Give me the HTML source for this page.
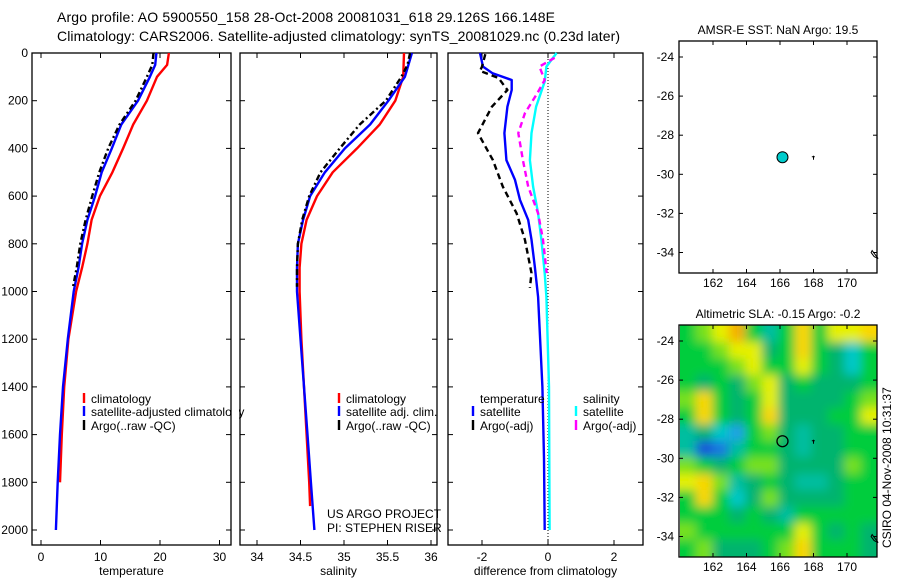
<!DOCTYPE html>
<html><head><meta charset="utf-8"><style>
html,body{margin:0;padding:0;background:#fff;}
svg{display:block;font-family:"Liberation Sans",sans-serif;}
</style></head><body>
<svg id="fig" width="900" height="580" viewBox="0 0 900 580" xmlns="http://www.w3.org/2000/svg">
<defs>
<clipPath id="clipMap2"><rect x="680" y="325" width="197" height="232"/></clipPath>
<filter id="blur" x="-10%" y="-10%" width="120%" height="120%"><feGaussianBlur stdDeviation="5"/></filter>
</defs>
<text x="57" y="22" font-size="14" textLength="498">Argo profile: AO 5900550_158 28-Oct-2008 20081031_618 29.126S 166.148E</text>
<text x="57" y="41" font-size="14" textLength="563">Climatology: CARS2006. Satellite-adjusted climatology: synTS_20081029.nc (0.23d later)</text>
<g id="plots"></g>
<text x="327" y="518" font-size="12">US ARGO PROJECT</text>
<text x="327" y="532" font-size="12">PI: STEPHEN RISER</text>
<text x="0" y="0" font-size="12" transform="translate(891,548) rotate(-90)">CSIRO 04-Nov-2008 10:31:37</text>
</svg>
<script>
// ---- data ----
const depthTicks = [0,200,400,600,800,1000,1200,1400,1600,1800,2000];
const tempTicks = [0,10,20,30];
const salTicks = [34,34.5,35,35.5,36];
const diffTicks = [-2,0,2];
const lonTicks = [162,164,166,168,170];
const latTicks = [-24,-26,-28,-30,-32,-34];

const tClimDepth = [0,50,100,200,300,400,500,600,700,800,900,1000,1200,1400,1600,1800];
const tClim = [21.5,21.2,19.5,17.8,15.5,13.8,12,9.9,8.5,7.8,6.9,5.9,4.6,3.9,3.5,3.2];
const tSatDepth = [0,50,100,200,300,400,500,600,700,800,900,1000,1200,1400,1600,1800,2000];
const tSat = [19.4,19.2,18.3,16.3,13.5,11.9,10.2,9.1,7.8,6.9,6.3,5.5,4.5,3.7,3.2,2.8,2.5];
const tArgoDepth = [0,50,100,200,300,400,500,600,700,800,900,980];
const tArgo = [18.9,18.7,17.8,15.9,13.2,11.3,9.8,8.6,7.5,6.6,6.0,5.4];

const sClimDepth = [0,100,200,300,400,500,600,700,800,900,1000,1200,1400,1600,1800,1900];
const sClim = [35.69,35.68,35.59,35.41,35.15,34.87,34.69,34.57,34.51,34.49,34.49,34.51,34.54,34.57,34.6,34.61];
const sSatDepth = [0,50,100,200,300,400,500,600,700,800,900,1000,1200,1400,1600,1800,2000];
const sSat = [35.78,35.74,35.70,35.51,35.30,35.01,34.78,34.61,34.53,34.47,34.46,34.46,34.5,34.54,34.58,34.62,34.66];
const sArgoDepth = [0,50,100,200,300,400,500,600,700,800,900,980];
const sArgo = [35.76,35.73,35.66,35.48,35.18,34.95,34.73,34.6,34.52,34.47,34.46,34.46];

const dTSatDepth = [0,57,85,113,155,225,336,449,532,616,700,783,895,1023,1400,1700,2000];
const dTSat = [-2.06,-1.97,-1.68,-1.1,-1.1,-1.23,-1.32,-1.26,-1.0,-0.85,-0.6,-0.5,-0.4,-0.3,-0.17,-0.12,-0.1];
const dTArgoDepth = [5,57,75,105,155,225,336,449,560,672,783,923,985];
const dTArgo = [-1.9,-2.0,-2.06,-1.5,-1.23,-1.7,-2.12,-1.67,-1.37,-0.95,-0.7,-0.5,-0.55];
const dSSatDepth = [0,57,120,225,336,449,560,672,783,923,1023,1400,2000];
const dSSat = [0.26,-0.05,-0.1,-0.36,-0.5,-0.55,-0.45,-0.3,-0.2,-0.1,-0.05,0.03,0.05];
const dSArgoDepth = [20,57,113,168,253,336,449,560,672,783,923];
const dSArgo = [0.2,-0.26,-0.1,-0.32,-0.7,-0.9,-0.76,-0.6,-0.3,-0.15,-0.04];

const floatLon = 166.148;
const floatLat = -29.126;
// SLA field rows (north to south), cols (west to east)
const slaGrid = [
[0,0.5,1,2,0,-1,0,1.5,0,1,1,1.5],
[0,0,0.5,1,1,-0.5,0,1.5,0,-0.5,-1.5,0],
[0,0,0,0.5,1,0,0,1,0,-0.5,-1.5,0],
[0,-0.5,0,-0.5,0.5,1,-0.5,0,-0.5,-0.5,-0.5,0],
[0.5,1.5,0,-0.5,0,1,-0.5,-0.5,-0.5,-0.5,0,0.5],
[0,1.5,0,-0.5,0,1.5,-0.5,-0.5,-0.5,0,0,1],
[-1,-0.5,-1.5,-2,0,0.5,-0.5,-1,-0.5,-0.5,0,0],
[-1,-3,-2.5,-1,0,0,-0.5,-1,-0.5,-0.5,0,0],
[0.5,0,-0.5,0,0.5,0.5,-0.5,-0.5,-0.5,-0.5,0.5,0],
[1,1.5,0.5,-1,-0.5,0,-0.5,-1,-1,-0.5,0,0],
[0,1.5,0,-1.5,-0.5,0.5,-0.5,-0.5,-0.5,-0.5,0,0],
[0,0,0,-0.5,0,-0.5,-1,0,0,0,0,0],
[0.5,0,0,0,0,0,0,1,0,-0.5,0,-0.5],
[0,0.5,-0.5,-0.5,-0.5,0,0.5,1.5,0,0,0,-0.5]
];

// ---- helpers ----
const NS = "http://www.w3.org/2000/svg";
const root = document.getElementById('plots');
function mk(tag, attrs, parent){ const e=document.createElementNS(NS,tag); for(const k in attrs) e.setAttribute(k,attrs[k]); (parent||root).appendChild(e); return e; }
const yD = d => 53 + d*0.2385;

function profilePanel(name, x0, x1, xs, ticks, tickFmt, xlabel, showDepthLabels){
  const g = mk('g',{});
  
  
  const fr = mk('rect',{x:x0,y:53,width:x1-x0,height:492,fill:'none',stroke:'#000','stroke-width':1.3},g);
  
  
  ticks.forEach(t=>{
    const x=xs(t);
    mk('line',{x1:x,x2:x,y1:545,y2:540,stroke:'#000'},g);
    mk('line',{x1:x,x2:x,y1:53,y2:58,stroke:'#000'},g);
    const tl = mk('text',{x:x,y:561,'font-size':12,'text-anchor':'middle'},g);
    tl.textContent = tickFmt(t);
    
    
  });
  depthTicks.forEach(d=>{
    const y=yD(d);
    mk('line',{x1:x0,x2:x0+5,y1:y,y2:y,stroke:'#000'},g);
    mk('line',{x1:x1,x2:x1-5,y1:y,y2:y,stroke:'#000'},g);
    if(showDepthLabels){
      const tl = mk('text',{x:28,y:y+4,'font-size':12,'text-anchor':'end'},g);
      tl.textContent = d;
      
      
    }
  });
  const xl = mk('text',{x:(x0+x1)/2,y:575,'font-size':12,'text-anchor':'middle'},g);
  xl.textContent = xlabel;
  
  
  return g;
}
function line(g, xs, vals, depths, color, dash, nm, w){
  const pts = vals.map((v,i)=>xs(v).toFixed(1)+','+yD(depths[i]).toFixed(1)).join(' ');
  const p = mk('polyline',{points:pts,fill:'none',stroke:color,'stroke-width':w||2.4,'stroke-dasharray':dash||'none','stroke-linejoin':'round'},g);
  
  
}
function legend(g, x, y, color, label, nm){
  const lg = mk('g',{},g);
  
  
  mk('line',{x1:x,x2:x,y1:y-10,y2:y,stroke:color,'stroke-width':2.4},lg);
  const t = mk('text',{x:x+7,y:y,'font-size':12},lg);
  t.textContent = label;
}

// temperature panel
const xT = v => 41 + v*5.95;
const gT = profilePanel('temperature-panel',32,231,xT,tempTicks,t=>t,'temperature',true);
line(gT,xT,tClim,tClimDepth,'#ff0000',null,'temp-climatology-line');
line(gT,xT,tSat,tSatDepth,'#0000ff',null,'temp-satellite-line');
line(gT,xT,tArgo,tArgoDepth,'#000','6,3,2,3','temp-argo-line');
legend(gT,84,403,'#ff0000','climatology','legend-climatology');
legend(gT,84,416,'#0000ff','satellite-adjusted climatology','legend-satellite');
legend(gT,84,430,'#000','Argo(..raw -QC)','legend-argo');
mk('rect',{x:232,y:395,width:7,height:40,fill:'#fff'});
// salinity panel
const xS = v => 257 + (v-34)*87;
const gS = profilePanel('salinity-panel',240,437,xS,salTicks,t=>t,'salinity',false);
line(gS,xS,sClim,sClimDepth,'#ff0000',null,'sal-climatology-line');
line(gS,xS,sSat,sSatDepth,'#0000ff',null,'sal-satellite-line');
line(gS,xS,sArgo,sArgoDepth,'#000','6,3,2,3','sal-argo-line');
legend(gS,339,403,'#ff0000','climatology','legend-sal-climatology');
legend(gS,339,416,'#0000ff','satellite adj. clim.','legend-sal-satellite');
legend(gS,339,430,'#000','Argo(..raw -QC)','legend-sal-argo');
// difference panel
const xDf = v => 548 + v*33;
const gD = profilePanel('difference-panel',448,643,xDf,diffTicks,t=>t,'difference from climatology',false);
mk('line',{x1:xDf(0),x2:xDf(0),y1:53,y2:545,stroke:'#000','stroke-dasharray':'1,2'},gD);
line(gD,xDf,dSSat,dSSatDepth,'#00ffff',null,'diff-sal-satellite-line');
line(gD,xDf,dSArgo,dSArgoDepth,'#ff00ff','6,4','diff-sal-argo-line');
line(gD,xDf,dTSat,dTSatDepth,'#0000ff',null,'diff-temp-satellite-line');
line(gD,xDf,dTArgo,dTArgoDepth,'#000','6,4','diff-temp-argo-line');
const lt = mk('text',{x:480,y:403,'font-size':12},gD); lt.textContent='temperature';
 
const ls = mk('text',{x:583,y:403,'font-size':12},gD); ls.textContent='salinity';
 
legend(gD,473,416,'#0000ff','satellite','legend-diff-temp-sat');
legend(gD,473,430,'#000','Argo(-adj)','legend-diff-temp-argo');
legend(gD,576,416,'#00ffff','satellite','legend-diff-sal-sat');
legend(gD,576,430,'#ff00ff','Argo(-adj)','legend-diff-sal-argo');

// ---- maps ----
const lonX = lon => 713 + (lon-162)*16.75;
function mapAxes(name, top, bottom, lat24y, title){
  const latY = lat => lat24y + (-24-lat)*19.55;
  const g = mk('g',{});
  
  
  const tt = mk('text',{x:778,y:top-7,'font-size':12,'text-anchor':'middle'},g);
  tt.textContent = title;
  
  
  return {g, latY};
}
function mapFrame(m, name, top, bottom){
  const g=m.g;
  const fr = mk('rect',{x:679,y:top,width:198,height:bottom-top,fill:'none',stroke:'#000','stroke-width':1.3},g);
  
  
  lonTicks.forEach(l=>{
    const x=lonX(l);
    mk('line',{x1:x,x2:x,y1:bottom,y2:bottom-4,stroke:'#000'},g);
    mk('line',{x1:x,x2:x,y1:top,y2:top+4,stroke:'#000'},g);
    const t=mk('text',{x:x,y:bottom+14,'font-size':12,'text-anchor':'middle'},g);
    t.textContent=l;
    
    
  });
  latTicks.forEach(l=>{
    const y=m.latY(l);
    mk('line',{x1:679,x2:683,y1:y,y2:y,stroke:'#000'},g);
    mk('line',{x1:877,x2:873,y1:y,y2:y,stroke:'#000'},g);
    const t=mk('text',{x:674,y:y+4,'font-size':12,'text-anchor':'end'},g);
    t.textContent=l;
    
    
  });
  mk('path',{d:`M${lonX(168)} ${m.latY(-29.05)} l0 4 M${lonX(167.9)} ${m.latY(-29.1)} l3 0`,stroke:'#000',fill:'none'},g);
  mk('path',{d:`M${lonX(171.5)} ${m.latY(-33.9)} l6 8 l-4 -2 l-3 -4 z`,stroke:'#000',fill:'none'},g);
}
// SST map
const m1 = mapAxes('sst-map',41,273,57,'AMSR-E SST: NaN Argo: 19.5');
mapFrame(m1,'sst-map',41,273);
const c1 = mk('circle',{cx:lonX(floatLon),cy:m1.latY(floatLat),r:5.5,fill:'#00cccc',stroke:'#000'},m1.g);


// SLA map
const m2 = mapAxes('sla-map',325,557,341,'Altimetric SLA: -0.15 Argo: -0.2');
function slaColor(v){
  const stops=[[-3,[20,80,220]],[-2,[30,160,230]],[-1.5,[0,200,200]],[-1,[0,190,160]],[-0.5,[0,180,110]],[0,[0,205,60]],[0.5,[120,225,30]],[1,[230,240,0]],[1.5,[250,215,0]],[2,[245,175,0]]];
  for(let i=0;i<stops.length-1;i++){
    const [a,ca]=stops[i],[b,cb]=stops[i+1];
    if(v<=b){const f=Math.max(0,(v-a)/(b-a));return 'rgb('+ca.map((c,k)=>Math.round(c+(cb[k]-c)*f)).join(',')+')';}
  }
  return 'rgb(245,175,0)';
}
const heat = mk('g',{'clip-path':'url(#clipMap2)'},m2.g);


mk('rect',{x:680,y:325,width:197,height:232,fill:slaColor(0)},heat);
const hb = mk('g',{filter:'url(#blur)'},heat);
const lonW = 160.0, lonE = 171.8, latN = -23.2, latS = -35.0;
const nr = slaGrid.length, nc = slaGrid[0].length;
slaGrid.forEach((row,r)=>row.forEach((v,c)=>{
  const la0 = latN + (latS-latN)*r/nr, la1 = latN + (latS-latN)*(r+1)/nr;
  const lo0 = lonW + (lonE-lonW)*c/nc, lo1 = lonW + (lonE-lonW)*(c+1)/nc;
  const x0=lonX(lo0)-(c===0?12:0), x1=lonX(lo1)+(c===nc-1?12:0);
  const y0=m2.latY(la0)-(r===0?12:0), y1=m2.latY(la1)+(r===nr-1?12:0);
  const cell = mk('rect',{x:x0,y:y0,width:x1-x0+0.5,height:y1-y0+0.5,fill:slaColor(v)},hb);
  
  
}));
mapFrame(m2,'sla-map',325,557);
const c2 = mk('circle',{cx:lonX(floatLon),cy:m2.latY(floatLat),r:5.5,fill:'none',stroke:'#000','stroke-width':1.3},m2.g);


</script>
</body></html>
